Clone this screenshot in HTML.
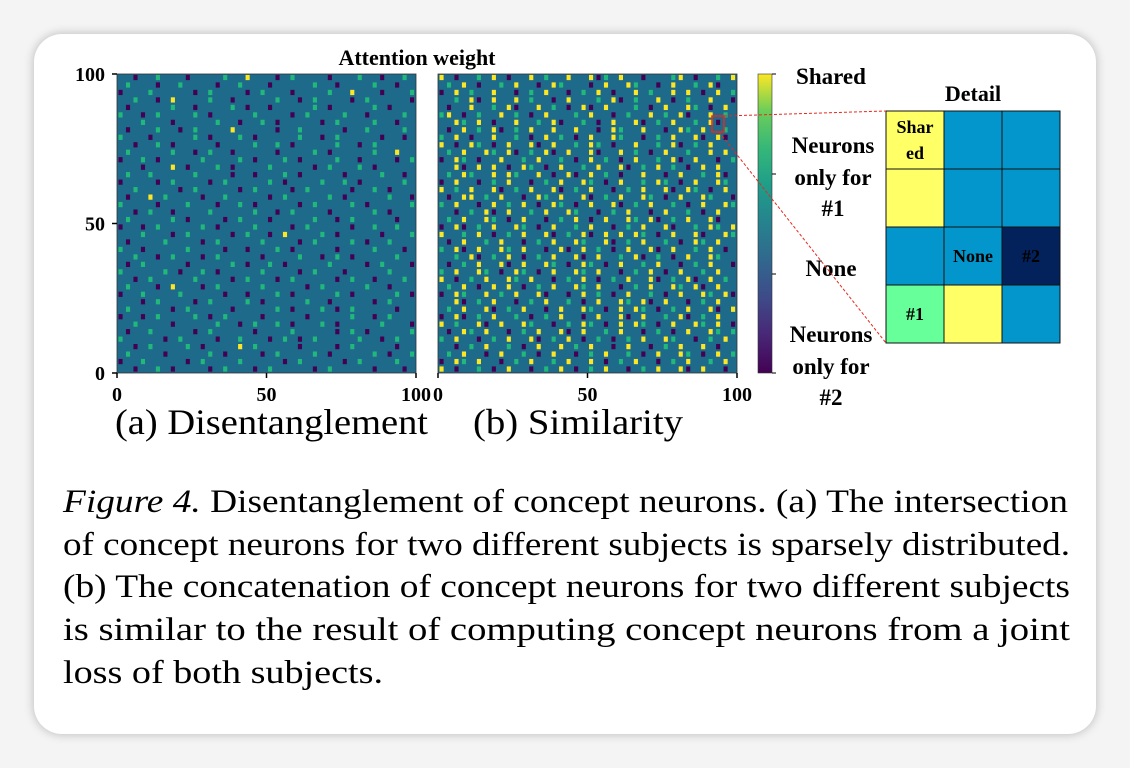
<!DOCTYPE html>
<html><head><meta charset="utf-8"><style>
html,body{margin:0;padding:0;background:#f4f4f4;width:1130px;height:768px;overflow:hidden}
#card{position:absolute;left:34px;top:34px;width:1062px;height:700px;background:#fff;border-radius:28px;box-shadow:0 0 10px rgba(0,0,0,0.25)}
svg{position:absolute;left:0;top:0}
text{font-family:"Liberation Serif",serif;fill:#000}
.b{font-weight:bold}
</style></head><body>
<div id="card"></div>
<svg id="fig" width="1130" height="768">
<defs>
<linearGradient id="vir" x1="0" y1="1" x2="0" y2="0">
<stop offset="0" stop-color="#440154"/><stop offset="0.13" stop-color="#482878"/><stop offset="0.25" stop-color="#3e4a89"/><stop offset="0.38" stop-color="#31688e"/><stop offset="0.5" stop-color="#26828e"/><stop offset="0.63" stop-color="#1f9e89"/><stop offset="0.75" stop-color="#35b779"/><stop offset="0.88" stop-color="#6ece58"/><stop offset="1" stop-color="#fde725"/>
</linearGradient>
</defs>
<text x="417" y="65" text-anchor="middle" class="b" font-size="22">Attention weight</text>
<g id="panels"></g>
<rect x="758" y="74" width="14" height="299" fill="url(#vir)" stroke="#333" stroke-width="0.6"/>
<g class="b" font-size="23" text-anchor="middle">
<text x="831" y="84">Shared</text>
<text x="833" y="153">Neurons</text><text x="833" y="185">only for</text><text x="833" y="216">#1</text>
<text x="831" y="276">None</text>
<text x="831" y="342">Neurons</text><text x="831" y="374">only for</text><text x="831" y="405">#2</text>
</g>
<g stroke="#000" stroke-width="1">
<line x1="772" y1="74" x2="776" y2="74"/><line x1="772" y1="174" x2="776" y2="174"/><line x1="772" y1="274" x2="776" y2="274"/><line x1="772" y1="373" x2="776" y2="373"/>
</g>
<text x="973" y="101" text-anchor="middle" class="b" font-size="22">Detail</text>
<g id="detail"></g>
<rect x="712" y="116" width="12" height="16" fill="none" stroke="#e8281e" stroke-width="1.5"/>
<line x1="724" y1="116" x2="886" y2="111" stroke="#e8281e" stroke-dasharray="3,2"/>
<line x1="719" y1="132" x2="886" y2="343" stroke="#e8281e" stroke-dasharray="3,2"/>
<text x="115" y="434" font-size="36" textLength="313" lengthAdjust="spacingAndGlyphs">(a) Disentanglement</text>
<text x="473" y="434" font-size="36" textLength="210" lengthAdjust="spacingAndGlyphs">(b) Similarity</text>
<g font-size="33">
<text x="63" y="512" textLength="1005" lengthAdjust="spacingAndGlyphs"><tspan font-style="italic">Figure 4.</tspan> Disentanglement of concept neurons. (a) The intersection</text>
<text x="63" y="555" textLength="1007" lengthAdjust="spacingAndGlyphs">of concept neurons for two different subjects is sparsely distributed.</text>
<text x="63" y="597" textLength="1007" lengthAdjust="spacingAndGlyphs">(b) The concatenation of concept neurons for two different subjects</text>
<text x="63" y="640" textLength="1007" lengthAdjust="spacingAndGlyphs">is similar to the result of computing concept neurons from a joint</text>
<text x="63" y="683" textLength="320" lengthAdjust="spacingAndGlyphs">loss of both subjects.</text>
</g>
</svg>
<script>
const gridA = [
"..p..g...p....g..y...p.g....p...g..p..g.",
".g...p..g....p..g...p.....g..p....g..p..",
"p...g.....p.g....p.g...p....g..y...p...g",
"..g..p.y....g..p.....g..p.g....p.g.....p",
".p.....g..p....g.p..p.....g.p.....g.p...",
"g..p.g....g.p.....g....p.g....g..p....g.",
"...g...p.....g..p..g.p.....p.g....g..p..",
".p...g..p.g....y.....p..g.....p..g....g.",
"g...p.....g.p...g.p.....g..p.g.....p..p.",
"..p..g.p.....p....g..g.p.....g..p.g.....",
".g.....g..p.g..p.....p....g.p.....g..y..",
"p..g.p.....g....g.p...g.p....g..p....p.g",
"...p...y.p...g.p....g.....p.g...g.p.....",
".g..g.....g....p..p...g.p.....p....g..p.",
"p....p.g....p.g.....g.p....g..g.p.....g.",
"..g.....p.g.....p.g....p.g.....p..g.p...",
".p..y.g....p..g.....p.g.....g.p.....g..p",
"g....p...g...p..g.p.....p.g....g.p.....g",
"..p.g..p....g.....g..p.g....p.....g.p...",
".g.....g.p....p.g...p.....g..p.g.....p..",
"p..p.g.....g.p....g....p.g.....p..g..g..",
"...g...p.g.....p.g..p.y....g.p.....p...g",
".p....g....p.g.....g....p.g....g.p..g...",
"g..p.....g....p..p...g.p.....p....g...p.",
"..g..p.g...p.g.....p....g..p.g.p.....g..",
".p.g.....p.....g.p..g.p.....g....p.g...p",
"g.....g.p..g.p.....g....p.g...p.....g...",
"..p.g.....g....p.g...p.g.....p.g..p...g.",
".g...p.y...p.g.....g.....p.g.....g..p...",
"p..g....g.....p..p...g.p.....g.p.....g.p",
"...p.g....p.g....g.p.....g..p.....p.g...",
".g.....p.g.....p.....g.p...g.p.g.....p..",
"p..p.g....g.p.g....p.....p.....g..p.g...",
"..g....p.....g..p.g..g.p...g.p.....g...p",
".p..g.....p.g.....p....g.....p.g.p.....g",
"g.....p.g....p..g...p.g.p.g.....g..p.g..",
"..p.g....g.p....y.g.....p....p.g.....p..",
".g....p.....g.p....p.g....g.p.....g.p..g",
"p..g.....p.g....g.....p.g.....p.g....g..",
"..p..g.p....p.g...p.g.....p.g.....p...p."
];
const gridB = [
"y.p..g.y.p..y.g..y..ypg.y..p...gy.p..g.y",
".g.y.p..g.y..p.yg...p.y..yg..p.y..g.yp..",
"p.y.g..y..p.g.y..p.g.y.p..y.g..y.y.p.y.g",
"..g.yp.y..y.g..p.y...g.yp.g..y.p.g..y..p",
".p..y..g.yp..y.g.p.yp.y...g.p.y..yg.p.y.",
"gy.p.g..y.g.p.y...g.y..p.g..y.g.yp..y.g.",
"..yg.y.p..y..g.yp..g.p.y..yp.g.y..g.yp..",
".p.y.g.yp.g.y..y..y..p.yg..y..p.yg.y..g.",
"g.y.p..y..g.p.y.g.p.y..yg..p.g.y..yp.yp.",
"y.p.yg.p.y..yp.y..g.yg.p..y..g.yp.g.y...",
".g.y..yg.yp.g.yp.y..yp..y.g.p.y..g..y.y.",
"p.yg.p..y..g.y..g.p.y.g.p.y..g.yp.y..p.g",
"..yp.y.y.p.yg.p.y..g.y..yp.g.y.g.p.y.y..",
".g.yg..y.yg..y.p.yp.y.g.p..y..p.y..g.yp.",
"p.y..p.g.y..p.g.y..yg.p.y..g.yg.p.y..yg.",
"y.g.y..yp.g.y..yp.g.y..p.g.y..yp.yg.p.y.",
".p.yy.g.y..p.yg.y..yp.g.y..yg.p.y..yg..p",
"g.y..p.y.g.y.p.yg.p.y..yp.g.y..g.p.y..yg",
"..p.g.yp.y..g.y..yg..p.g.y..p.y..g.p.y..",
".g.y..yg.p.y..p.g.y.p.y..yg.yp.g.y..yp..",
"p.yp.g.y..yg.p.y..g.y..p.g.y..yp..g.yg.y",
"y..g.y.p.g.y..yp.g.yp.y.y.yg.p.y..yp..yg",
".p.y..g.y..p.g.y..yg..yp.g.y..g.p.yg.y..",
"g.yp.y..yg.y..p.yp.y.g.p.y..yp.y..g.y.p.",
"..g.yp.g.y.p.g.y..yp.y..g.yp.g.p.y..yg..",
".p.g.y..yp.y..yg.p.yg.p.y..g.y..p.g.y..p",
"g.y..yg.p.yg.p.y..yg.y..p.g.y.p.y..g.y..",
"y.p.g.y..yg.y..p.g.y.p.g.y..yp.g.yp.y.g.",
".g.y.p.y.y.p.g.y..yg.y..p.g.y..yg.yp.y..",
"p.yg..y.g.y..yp..p.y.g.p.y..g.p.y..yg.yp",
"..yp.g.y..p.g.y..g.p.y..yg.yp.y..p.g.y..",
".g.y..yp.g.y..p.y..yg.p.y.yg.p.g.y..yp.y",
"p.yp.g.y..g.p.g.y..p.y..yp.y..g.yp.g.y..",
"y.g..yp.y..yg..p.g.yg.p.y.yg.p.y..yg.y.p",
".p.yg.y..p.g.y..yp.y..g.y..p.g.p.y..yg.g",
"g.y..p.g.y..yp.g.y.p.g.p.g.y..yg..p.g.y.",
"..p.g.y..g.p.y..y.g.y..p.y..p.g.y..y.p..",
".g.y..p.y..g.p.y..p.g.y..g.p.y..yg.p.y.g",
"p.yg.y..p.g.y..g.y..y.p.g.y..p.g.y..g.y.",
"y.p..g.p.y..p.g.y.p.g.y..p.g.y..yp.y..p."
];
const ticks = [0, 50, 100];
const detailLabels = ["Shar\ned", "", "", "", "", "", "", "None", "#2", "#1", "", ""];
const detailValues = ["y", "b", "b", "y", "b", "b", "b", "b", "d", "g", "y", "b"];

const NS = "http://www.w3.org/2000/svg";
const colors = {".": "#1d6a8b", p: "#440154", g: "#22b87a", y: "#fde725"};
const detailColors = {y: "#ffff66", b: "#0396cc", d: "#03225c", g: "#66ff99"};
function mk(tag, attrs, parent) { const e = document.createElementNS(NS, tag); for (const k in attrs) e.setAttribute(k, attrs[k]); parent.appendChild(e); return e; }
const panels = document.getElementById("panels");
function drawPanel(grid, x0, name) {
  const y0 = 74, W = 299, H = 299;
  const g = mk("g", {}, panels);
  
  
  const rows = grid.length, cols = grid[0].length;
  const cw = W / cols, ch = H / rows;
  const sx = c => x0 + c * cw, sy = r => y0 + r * ch;
  const bg = mk("rect", {x: x0, y: y0, width: W, height: H, fill: colors["."]}, g);
  
  
  for (let r = 0; r < rows; r++) for (let c = 0; c < cols; c++) {
    const v = grid[r][c];
    if (v === ".") continue;
    const cell = mk("rect", {x: sx(c) + cw * 0.2, y: sy(r) + ch * 0.12, width: cw * 0.55, height: ch * 0.7, fill: colors[v]}, g);
    
    
  }
  mk("rect", {x: x0, y: y0, width: W, height: H, fill: "none", stroke: "#333", "stroke-width": 0.8}, g);
  const ax = v => x0 + v / 100 * W, ay = v => y0 + H - v / 100 * H;
  ticks.forEach(t => {
    mk("line", {x1: ax(t), y1: y0 + H, x2: ax(t), y2: y0 + H + 5, stroke: "#000", "stroke-width": 1.5}, g);
    const tx = mk("text", {x: ax(t), y: y0 + H + 28, "text-anchor": "middle", class: "b", "font-size": 20}, g);
    tx.textContent = t;
    
    
    if (name === "panel-a") {
      mk("line", {x1: x0 - 5, y1: ay(t), x2: x0, y2: ay(t), stroke: "#000", "stroke-width": 1.5}, g);
      const ty = mk("text", {x: x0 - 12, y: ay(t) + 7, "text-anchor": "end", class: "b", "font-size": 20}, g);
      ty.textContent = t;
      
      
    }
  });
}
drawPanel(gridA, 117, "panel-a");
drawPanel(gridB, 438, "panel-b");

const det = document.getElementById("detail");
const dx = 886, dy = 111, cw = 58;
detailValues.forEach((v, i) => {
  const r = Math.floor(i / 3), c = i % 3;
  const rc = mk("rect", {x: dx + c * cw, y: dy + r * cw, width: cw, height: cw, fill: detailColors[v], stroke: "#111", "stroke-width": 1}, det);
  
  
  const lab = detailLabels[i];
  if (lab) {
    const parts = lab.split("\n");
    parts.forEach((p, k) => {
      const t = mk("text", {x: dx + c * cw + cw / 2, y: dy + r * cw + cw / 2 + 6 + (parts.length > 1 ? (k - 0.5) * 26 : 0), "text-anchor": "middle", class: "b", "font-size": 18}, det);
      t.textContent = p;
      
      
    });
  }
});
</script>
</body></html>
